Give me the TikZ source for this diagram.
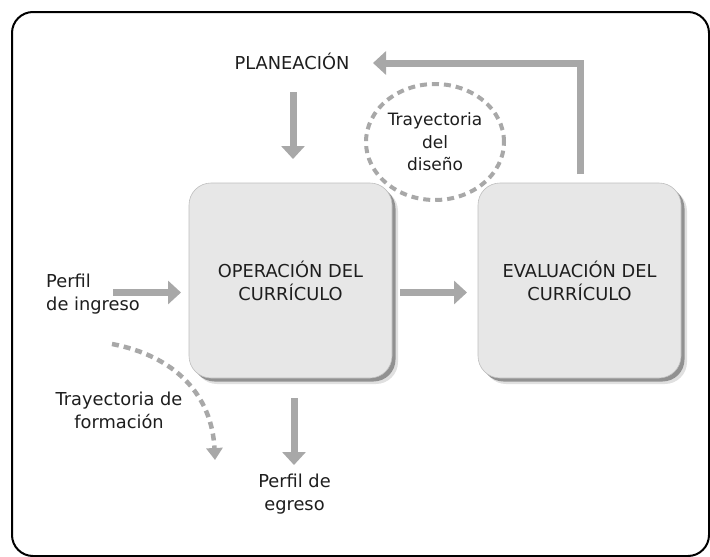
\documentclass[tikz,border=0pt]{standalone}
\usepackage{fontspec}
\setmainfont{DejaVu Sans}
\usetikzlibrary{arrows.meta,shadows}
\definecolor{arrgray}{HTML}{A8A8A8}
\definecolor{boxfill}{HTML}{E7E7E7}
\definecolor{txt}{HTML}{1E1E1E}
\tikzset{
  lbl/.style={font=\fontsize{17.8}{23}\selectfont, text=txt, inner sep=0pt, align=center},
  arr/.style={draw=arrgray, line width=7pt, -{Triangle[width=23pt,length=13pt]}},
  dasharr/.style={draw=arrgray, line width=4.5pt, dash pattern=on 7pt off 5pt,
     -{Triangle[width=16pt,length=12pt]}},
  bigbox/.style={draw=black!25, line width=0.6pt, fill=boxfill, rounded corners=22pt,
     minimum width=203pt, minimum height=195pt, inner sep=0pt,
     font=\fontsize{17.8}{23}\selectfont, text=txt, align=center,
     drop shadow={shadow xshift=6pt, shadow yshift=-6pt, fill=black, opacity=0.12},
     drop shadow={shadow xshift=3.5pt, shadow yshift=-3.5pt, fill=black, opacity=0.35}},
}
\begin{document}
\begin{tikzpicture}[x=1pt,y=-1pt]
\useasboundingbox (0,0) rectangle (710,557);
\fill[white] (0,0) rectangle (710,557);
% frame
\draw[line width=2pt, rounded corners=21pt] (12,12) rectangle (709,556);

% boxes
\node[bigbox] (op) at (290.5,280.5) {OPERACIÓN DEL\\CURRÍCULO};
\node[bigbox] (ev) at (579.5,280.5) {EVALUACIÓN DEL\\CURRÍCULO};

% labels
\node[lbl] (plan) at (292,61) {PLANEACIÓN};
\node[lbl, font=\fontsize{17}{22.5}\selectfont] (dis) at (435,142) {Trayectoria\\del\\diseño};
\node[lbl, align=left, anchor=west] (ing) at (46,294) {Perfil\\de ingreso};
\node[lbl] (egr) at (294.5,494) {Perfil de\\egreso};
\node[lbl] (form) at (119,410) {Trayectoria de\\formación};

% dashed ellipse around design trajectory
\draw[arrgray, line width=4pt, dash pattern=on 7pt off 5pt]
  (dis) ellipse [x radius=69pt, y radius=58pt];

% coordinates for arrow ends
\coordinate (p1) at (293,92);
\coordinate (p2) at (293,159);
\coordinate (i1) at (113,292.5);
\coordinate (i2) at (181,292.5);
\coordinate (m1) at (400,292.5);
\coordinate (m2) at (467,292.5);
\coordinate (e1) at (294,398);
\coordinate (e2) at (294,465);
\coordinate (f1) at (580,174);
\coordinate (f2) at (580,63);
\coordinate (f3) at (373,63);
\coordinate (t1) at (112,344);
\coordinate (t2) at (215,460);

\draw[arr] (p1) -- (p2);
\draw[arr] (i1) -- (i2);
\draw[arr] (m1) -- (m2);
\draw[arr] (e1) -- (e2);
\draw[arr, line join=miter] (f1) -- (f2) -- (f3);
\draw[dasharr] (t1) .. controls (175,356) and (212,395) .. (t2);
\end{tikzpicture}
\end{document}
